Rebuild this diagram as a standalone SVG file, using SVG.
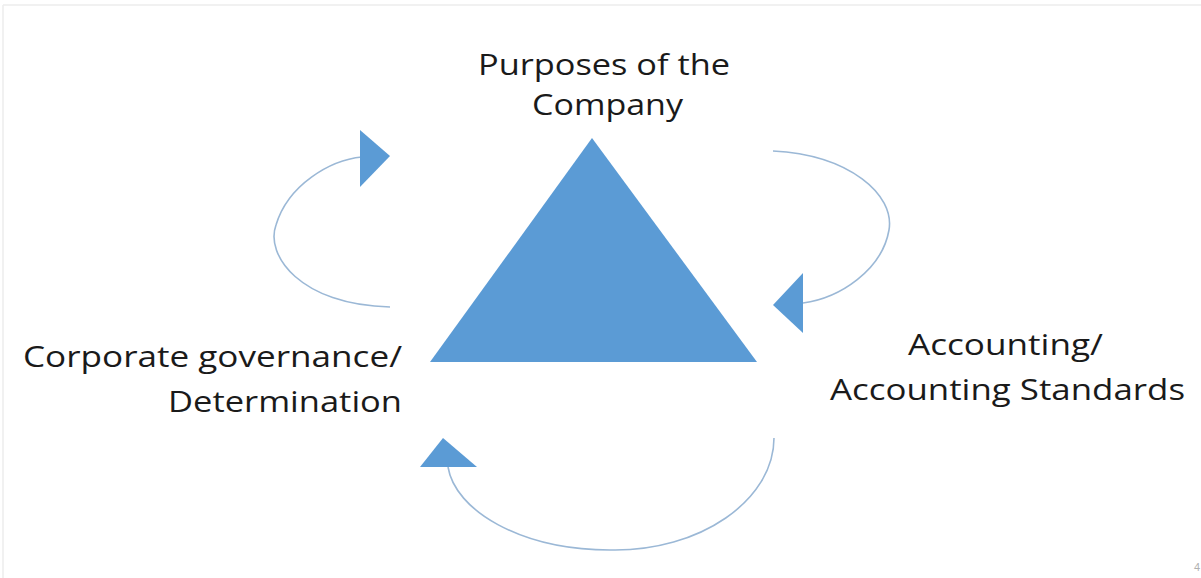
<svg xmlns="http://www.w3.org/2000/svg" width="1201" height="578" viewBox="0 0 1201 578">
<style>
.lbl{font-family:"Open Sans","Liberation Sans",sans-serif;font-size:30px;fill:#1a1a1a}
.arc{fill:none;stroke:#9bb8d6;stroke-width:1.6}
.head{fill:#5b9bd5}
</style>
<rect width="1201" height="578" fill="#ffffff"/>
<g id="frame" stroke="#ececec" stroke-width="1.5" fill="none">
<line x1="3" y1="5" x2="1201" y2="5"/>
<line x1="3" y1="5" x2="3" y2="578"/>
</g>
<g id="connectors">
<path class="arc" d="M390,307 C300,305 265,255 276,225 C288,185 330,160 362,157"/>
<polygon class="head" points="360,130 390,156 360,187"/>
<path class="arc" d="M773,151 C850,155 895,195 889,230 C882,270 840,298 803,303"/>
<polygon class="head" points="803,273 773,305 803,333"/>
<path class="arc" d="M774,438 C774,500 700,552 610,550 C520,550 455,510 448,467"/>
<polygon class="head" points="420,467 443,438 477,467"/>
</g>
<g id="triangle">
<polygon class="head" points="592,138 430,362 757,362"/>
</g>
<g id="node-purposes">
<text class="lbl" x="478" y="75" textLength="252" lengthAdjust="spacingAndGlyphs">Purposes of the</text>
<text class="lbl" x="532" y="115" textLength="151" lengthAdjust="spacingAndGlyphs">Company</text>
</g>
<g id="node-governance">
<text class="lbl" x="23" y="367" textLength="379" lengthAdjust="spacingAndGlyphs">Corporate governance/</text>
<text class="lbl" x="168" y="412" textLength="234" lengthAdjust="spacingAndGlyphs">Determination</text>
</g>
<g id="node-accounting">
<text class="lbl" x="908" y="355" textLength="195" lengthAdjust="spacingAndGlyphs">Accounting/</text>
<text class="lbl" x="830" y="400" textLength="355" lengthAdjust="spacingAndGlyphs">Accounting Standards</text>
</g>
<text x="1194" y="571" font-family="Liberation Sans, sans-serif" font-size="11" fill="#b0b0b0">4</text>
</svg>
